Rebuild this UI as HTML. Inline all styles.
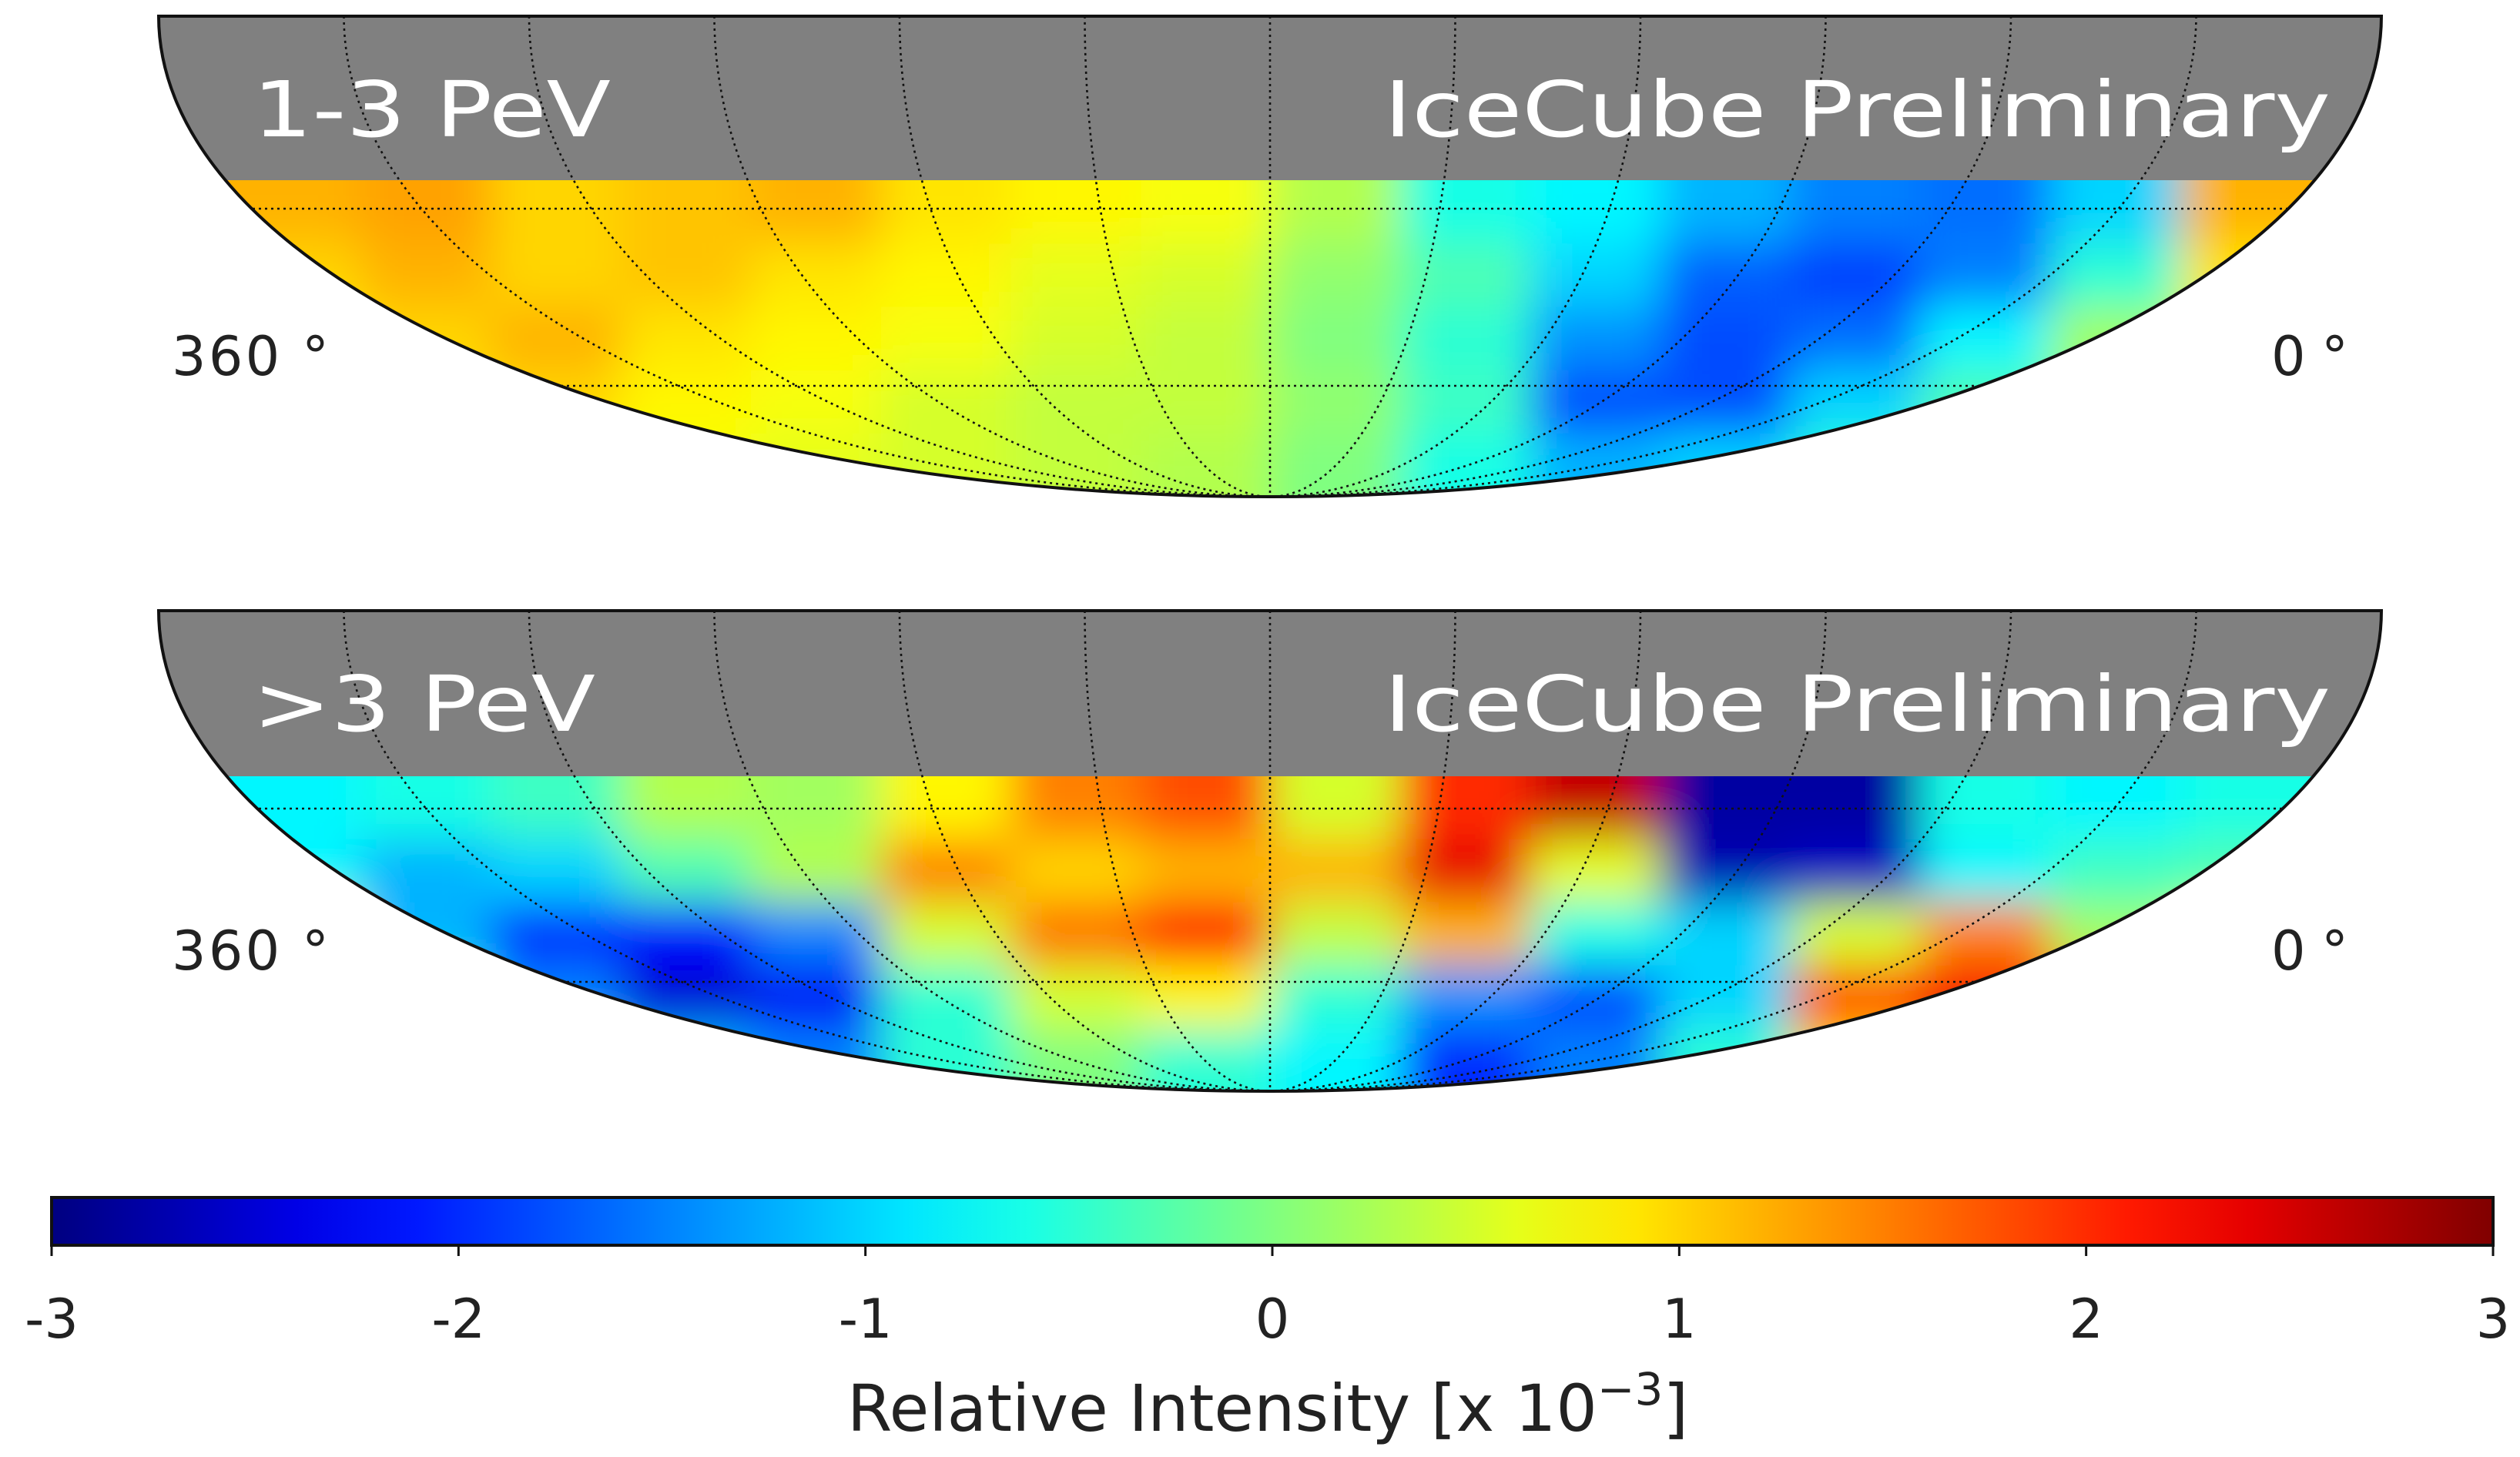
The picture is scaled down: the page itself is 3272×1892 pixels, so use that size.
<!DOCTYPE html>
<html><head><meta charset="utf-8"><style>
html,body{margin:0;padding:0;background:#fff;}
svg{display:block;font-family:"DejaVu Sans","Liberation Sans",sans-serif;}
</style></head><body>
<svg id="chart" width="3272" height="1892" viewBox="0 0 3272 1892" xmlns="http://www.w3.org/2000/svg">
<defs>
<filter id="blur" x="-20%" y="-50%" width="140%" height="200%"><feGaussianBlur stdDeviation="30"/></filter>
<linearGradient id="jet" x1="0" x2="1" y1="0" y2="0"></linearGradient>
</defs>
<g id="maps"></g>
<g id="cbar"></g>
</svg>
<script>
// ---- data ----
const colorMin = -3, colorMax = 3;
const colorbarTicks = [-3, -2, -1, 0, 1, 2, 3];
const mapTitles = ["1-3 PeV", ">3 PeV"];
const map1Values = [
 [1.2,1.3,1.0,1.1,1.2,0.9,0.8,0.7,0.3,-0.6,-0.8,-1.2,-1.5,-1.6,-1.0,1.2],
 [1.0,1.2,1.0,1.1,0.9,0.8,0.6,0.5,0.1,-0.3,-1.0,-1.7,-1.9,-1.5,-0.5,0.9],
 [0.8,1.0,1.2,0.9,0.8,0.7,0.5,0.4,0.0,-0.5,-1.4,-1.8,-1.6,-0.8,0.2,0.6],
 [0.6,0.9,1.0,0.8,0.7,0.5,0.4,0.4,0.1,-0.4,-1.8,-1.8,-1.0,-0.3,0.2,0.5],
 [0.5,0.7,0.8,0.7,0.6,0.5,0.4,0.3,0.0,-0.6,-1.2,-1.0,-0.5,0.0,0.3,0.4]
];
const map2Values = [
 [-0.8,-0.6,-0.4,0.3,0.2,0.8,1.5,1.8,0.5,2.0,2.6,-2.8,-2.8,-0.6,-0.8,-0.6],
 [-0.8,-1.2,-1.0,-0.3,0.3,1.5,1.0,1.2,1.2,2.4,0.6,-2.7,-2.6,-0.8,-0.4,-0.3],
 [0.5,-1.2,-2.0,-2.2,-1.5,0.5,1.6,2.2,0.4,1.2,-0.6,-1.0,0.5,1.5,0.2,0.6],
 [1.5,-0.5,-1.5,-2.5,-2.3,-0.5,0.5,0.8,-0.5,-1.4,-1.8,-1.0,1.8,2.3,1.3,0.5],
 [2.5,1.0,-0.3,-1.2,-1.5,-0.5,0.0,-0.5,-0.8,-2.0,-1.5,-0.5,1.0,2.5,1.8,1.0]
];
const meridianSteps = [-5,-4,-3,-2,-1,0,1,2,3,4,5];

// ---- helpers ----
const NS = "http://www.w3.org/2000/svg";
function mk(tag, attrs, parent){const e=document.createElementNS(NS,tag);for(const k in attrs)e.setAttribute(k,attrs[k]);if(parent)parent.appendChild(e);return e;}
function jet(v){
  const t=(v-colorMin)/(colorMax-colorMin);
  const r=Math.min(Math.max(Math.min(4*t-1.5,-4*t+4.5),0),1);
  const g=Math.min(Math.max(Math.min(4*t-0.5,-4*t+3.5),0),1);
  const b=Math.min(Math.max(Math.min(4*t+0.5,-4*t+2.5),0),1);
  return `rgb(${Math.round(r*255)},${Math.round(g*255)},${Math.round(b*255)})`;
}
const cx=1649, rx=1443, ry=624, left=cx-rx, right=cx+rx;

const maps=document.getElementById('maps');
const mapDefs=[{y0:21,grayBottom:234,vals:map1Values,title:mapTitles[0],par:[271,501]},
               {y0:793,grayBottom:1008,vals:map2Values,title:mapTitles[1],par:[1050,1275]}];
const defs=document.querySelector('defs');
mapDefs.forEach((m,mi)=>{
  const g=mk('g',{},maps);
  
  
  const shape=`M ${left} ${m.y0} L ${right} ${m.y0} A ${rx} ${ry} 0 0 1 ${left} ${m.y0} Z`;
  const cp=mk('clipPath',{id:'clip'+mi},defs); mk('path',{d:shape},cp);
  const clipG=mk('g',{'clip-path':`url(#clip${mi})`},g);
  const heat=mk('g',{filter:'url(#blur)'},clipG);
  
  
  const rows=m.vals.length, cols=m.vals[0].length;
  const x0=300, x1=3000, yTop=m.grayBottom, yBot=m.y0+ry;
  const cw=(x1-x0)/cols, ch=(yBot-yTop)/rows;
  m.vals.forEach((row,r)=>row.forEach((v,c)=>{
    let x=x0+c*cw, w=cw, y=yTop+r*ch, h=ch;
    if(c===0){x-=250;w+=250;} if(c===cols-1){w+=250;}
    if(r===0){y-=100;h+=100;} if(r===rows-1){h+=150;}
    const rect=mk('rect',{x:x,y:y,width:w+1,height:h+1,fill:jet(v)},heat);
    
    
  }));
  const gray=mk('rect',{x:0,y:m.y0,width:3272,height:m.grayBottom-m.y0,fill:'#808080'},clipG);
  
  
  const grid=mk('g',{fill:'none',stroke:'#111',"stroke-width":2.6,"stroke-dasharray":"3 5"},clipG);
  
  
  meridianSteps.forEach(k=>{
    const a=Math.abs(k)*rx/6;
    let d;
    if(k===0) d=`M ${cx} ${m.y0} L ${cx} ${m.y0+ry}`;
    else d=`M ${cx+Math.sign(k)*a} ${m.y0} A ${a} ${ry} 0 0 ${k>0?1:0} ${cx} ${m.y0+ry}`;
    mk('path',{d:d},grid);
  });
  m.par.forEach(y=>mk('line',{x1:0,x2:3272,y1:y,y2:y},grid));
  const outline=mk('path',{d:shape,fill:'none',stroke:'#111','stroke-width':4},g);
  
  
  const t1=mk('text',{x:328,y:m.y0+156,fill:'#fff','font-size':100,textLength:mi===0?465:445,lengthAdjust:'spacingAndGlyphs'},g); t1.textContent=m.title;
  
  
  const t2=mk('text',{x:1797,y:m.y0+156,fill:'#fff','font-size':100,textLength:1229,lengthAdjust:'spacingAndGlyphs'},g); t2.textContent='IceCube Preliminary';
  
  
  const l1=mk('text',{x:223,y:m.y0+466,fill:'#222','font-size':70,textLength:204,lengthAdjust:'spacing'},g); l1.textContent='360 \u00b0';
  
  
  const l2=mk('text',{x:2949,y:m.y0+466,fill:'#222','font-size':70,textLength:100,lengthAdjust:'spacing'},g); l2.textContent='0 \u00b0';
  
  
});

// colorbar
const grad=document.getElementById('jet');
for(let i=0;i<=20;i++){const v=colorMin+(colorMax-colorMin)*i/20;mk('stop',{offset:(i/20),'stop-color':jet(v)},grad);}
const cb=document.getElementById('cbar');
const cbX0=67, cbX1=3237, cbY=1555, cbH=62;
const xs=v=>cbX0+(v-colorMin)/(colorMax-colorMin)*(cbX1-cbX0);
const bar=mk('rect',{x:cbX0,y:cbY,width:cbX1-cbX0,height:cbH,fill:'url(#jet)',stroke:'#111','stroke-width':4},cb);


colorbarTicks.forEach(v=>{
  mk('line',{x1:xs(v),x2:xs(v),y1:cbY+cbH,y2:cbY+cbH+14,stroke:'#111','stroke-width':3},cb);
  const t=mk('text',{x:xs(v),y:1737,'text-anchor':'middle','font-size':70,fill:'#222'},cb);
  t.textContent=String(v);
  
  
});
const title=mk('text',{x:1100,y:1858,'font-size':84,fill:'#222'},cb);


title.innerHTML='Relative Intensity [x 10<tspan dy="-34" font-size="58">\u22123</tspan><tspan dy="34">]</tspan>';
</script>
</body></html>
